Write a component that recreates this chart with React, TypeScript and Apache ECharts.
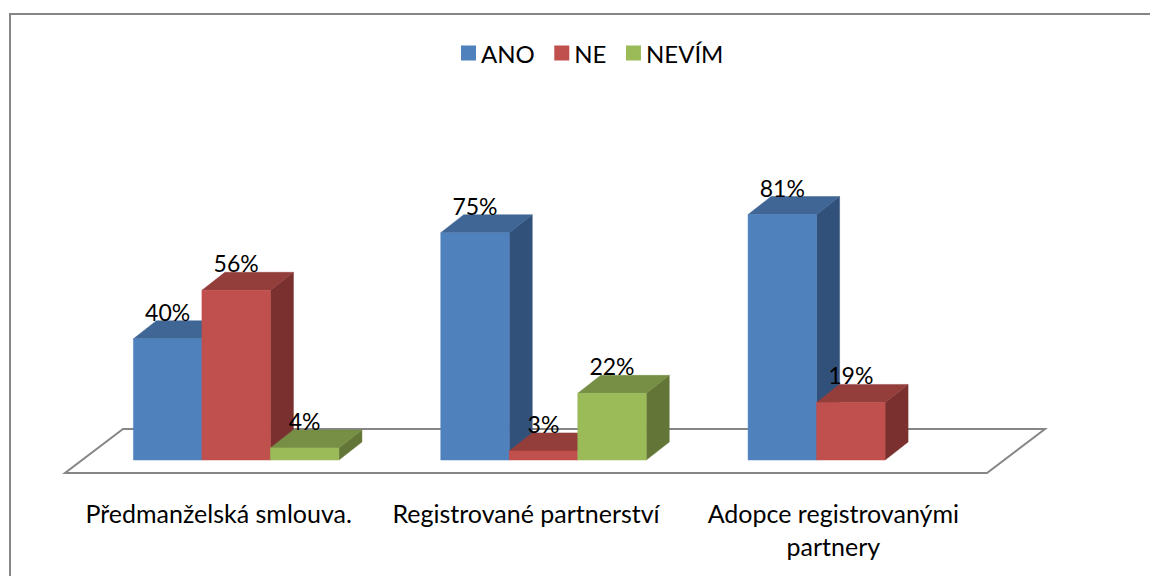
import React, { useEffect, useRef } from "react";
import * as echarts from "echarts";

const categories = ["Předmanželská smlouva.", "Registrované partnerství", "Adopce registrovanými\npartnery"];
const seriesNames = ["ANO", "NE", "NEVÍM"];
const ano = [40, 75, 81];
const ne = [56, 3, 19];
const nevim: (number | null)[] = [4, 22, null];
const seriesValues = [ano, ne, nevim];
const frontColors = ["#4F81BD", "#C0504D", "#9BBB59"];
const topColors = ["#3F6695", "#943E3C", "#778F45"];
const sideColors = ["#31507A", "#7A302E", "#637637"];

const FONT = "Lato";
const BAR_W = 68.5;
const PLANE_DX = 17.5;
const PLANE_DY = -13;
const DEPTH_DX = 23;
const DEPTH_DY = -18;
const FLOOR_DX = 58;
const FLOOR_DY = -44;

function barRenderer(seriesIdx: number) {
  return (_params: any, api: any) => {
    const value = api.value(1);
    if (value == null || isNaN(value)) return null;
    const base = api.coord([api.value(0), 0]);
    const top = api.coord([api.value(0), value]);
    const xl = base[0] + PLANE_DX + (seriesIdx - 1.5) * BAR_W;
    const xr = xl + BAR_W;
    const yb = base[1] + PLANE_DY;
    const yt = top[1] + PLANE_DY;
    const poly = (points: number[][], fill: string) => ({
      type: "polygon",
      shape: { points },
      style: { fill, stroke: fill, lineWidth: 0.5 },
    });
    return {
      type: "group",
      children: [
        poly([[xr, yb], [xr + DEPTH_DX, yb + DEPTH_DY], [xr + DEPTH_DX, yt + DEPTH_DY], [xr, yt]], sideColors[seriesIdx]),
        poly([[xl, yt], [xl + DEPTH_DX, yt + DEPTH_DY], [xr + DEPTH_DX, yt + DEPTH_DY], [xr, yt]], topColors[seriesIdx]),
        poly([[xl, yb], [xr, yb], [xr, yt], [xl, yt]], frontColors[seriesIdx]),
        {
          type: "text",
          z2: 100,
          style: {
            x: (xl + xr) / 2,
            y: yt - 27,
            text: value + "%",
            fill: "#000",
            font: `23px ${FONT}`,
            align: "center",
            verticalAlign: "middle",
          },
        },
      ],
    };
  };
}

function floorRenderer(params: any) {
  const c = params.coordSys;
  const y = c.y + c.height;
  return {
    type: "polygon",
    shape: {
      points: [
        [c.x, y],
        [c.x + c.width, y],
        [c.x + c.width + FLOOR_DX, y + FLOOR_DY],
        [c.x + FLOOR_DX, y + FLOOR_DY],
      ],
    },
    style: { fill: "#fff", stroke: "#868686", lineWidth: 2 },
  };
}

export default function App() {
  const ref = useRef<HTMLDivElement>(null);
  useEffect(() => {
    document.body.style.margin = "0";
    const chart = echarts.init(ref.current!, null, { renderer: "svg" });
    chart.setOption({
      animation: false,
      backgroundColor: "#fff",
      textStyle: { fontFamily: FONT },
      grid: { left: 65, width: 922, top: 170, height: 303 },
      legend: {
        data: seriesNames,
        left: 461,
        top: 41,
        padding: 0,
        itemWidth: 15,
        itemHeight: 15,
        itemGap: 19.5,
        icon: "rect",
        selectedMode: false,
        textStyle: { fontFamily: FONT, fontSize: 24, color: "#000" },
      },
      xAxis: {
        type: "category",
        data: categories,
        axisLine: { show: false },
        axisTick: { show: false },
        splitLine: { show: false },
        axisLabel: { color: "#000", fontFamily: FONT, fontSize: 25, margin: 23, lineHeight: 33, interval: 0 },
      },
      yAxis: { type: "value", min: 0, max: 100, show: false },
      graphic: [
        {
          type: "polyline",
          silent: true,
          shape: { points: [[10, 576], [10, 14], [1150, 14]] },
          style: { stroke: "#868686", lineWidth: 2, fill: "none" },
        },
      ],
      series: [
        { type: "custom", name: "floor", coordinateSystem: "cartesian2d", renderItem: floorRenderer, data: [[0, 0]], z: 1, silent: true },
        ...seriesNames.map((name, i) => ({
          type: "custom",
          name,
          coordinateSystem: "cartesian2d",
          renderItem: barRenderer(i),
          itemStyle: { color: frontColors[i] },
          encode: { x: 0, y: 1 },
          data: seriesValues[i].map((v, c) => [c, v]),
          z: 2 + i,
        })),
      ],
    });
    return () => chart.dispose();
  }, []);
  return <div ref={ref} style={{ width: 1150, height: 576 }} />;
}
